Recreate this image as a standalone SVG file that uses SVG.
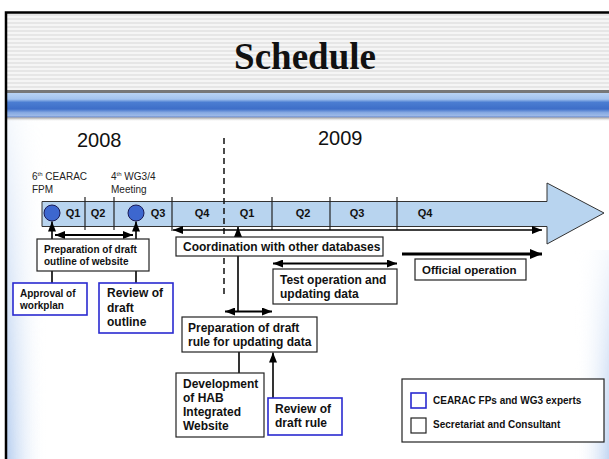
<svg xmlns="http://www.w3.org/2000/svg" width="609" height="459" viewBox="0 0 609 459">
  <style>
    .lbl { font-family: "Liberation Sans", Arial, sans-serif; font-weight: bold; fill: #111; }
    .yr { font-family: "Liberation Sans", Arial, sans-serif; font-size: 20px; fill: #111; }
    .ev { font-family: "Liberation Sans", Arial, sans-serif; font-size: 10px; fill: #222; }
    .q { font-family: "Liberation Sans", Arial, sans-serif; font-weight: bold; font-size: 11px; fill: #111; text-anchor: middle; }
    .box { fill: #fff; stroke: #222; stroke-width: 1.2; }
    .bbox { fill: #fff; stroke: #2a2ad0; stroke-width: 1.6; }
    .tick { stroke: #222; stroke-width: 1.2; }
    .ln { fill: none; stroke: #000; stroke-width: 1.6; }
    .ln2 { fill: none; stroke: #000; stroke-width: 2; }
  </style>
  <defs>
    <pattern id="stripes" width="8" height="4" patternUnits="userSpaceOnUse">
      <rect width="8" height="4" fill="#e6e6e6"/>
      <rect y="0" width="8" height="2" fill="#f5f5f5"/>
    </pattern>
    <linearGradient id="band" x1="0" y1="0" x2="0" y2="1">
      <stop offset="0" stop-color="#b9d3f4"/>
      <stop offset="0.25" stop-color="#a3c3ee"/>
      <stop offset="0.38" stop-color="#4b7dd2"/>
      <stop offset="0.65" stop-color="#3e6ec8"/>
      <stop offset="0.8" stop-color="#86a9e2"/>
      <stop offset="0.94" stop-color="#9fbbe8"/>
      <stop offset="1" stop-color="#3f64b8"/>
    </linearGradient>
    <linearGradient id="shadow" x1="0" y1="0" x2="0" y2="1">
      <stop offset="0" stop-color="#999"/>
      <stop offset="1" stop-color="#fff" stop-opacity="0"/>
    </linearGradient>
    <linearGradient id="hazeL" x1="0" y1="0" x2="1" y2="0">
      <stop offset="0" stop-color="#b9d0f0"/>
      <stop offset="1" stop-color="#ffffff" stop-opacity="0"/>
    </linearGradient>
    <linearGradient id="hazeR" x1="1" y1="0" x2="0" y2="0">
      <stop offset="0" stop-color="#c2d6f2"/>
      <stop offset="1" stop-color="#ffffff" stop-opacity="0"/>
    </linearGradient>
    <linearGradient id="fadeDown" x1="0" y1="0" x2="0" y2="1">
      <stop offset="0" stop-color="#fff" stop-opacity="0.15"/>
      <stop offset="1" stop-color="#fff" stop-opacity="1"/>
    </linearGradient>
    <mask id="mL"><rect x="0" y="118" width="60" height="341" fill="url(#fadeDown)"/></mask>
    <mask id="mR"><rect x="560" y="250" width="49" height="209" fill="url(#fadeDown)"/></mask>
    <marker id="ah" viewBox="0 0 10 8" refX="10" refY="4" markerWidth="10" markerHeight="8" markerUnits="userSpaceOnUse" orient="auto-start-reverse">
      <path d="M0,0 L10,4 L0,8 z" fill="#000"/>
    </marker>
    <marker id="ahL" viewBox="0 0 12 10" refX="12" refY="5" markerWidth="12" markerHeight="10" markerUnits="userSpaceOnUse" orient="auto-start-reverse">
      <path d="M0,0 L12,5 L0,10 z" fill="#000"/>
    </marker>
  </defs>

  <!-- slide background and frame -->
  <rect width="609" height="459" fill="#fff"/>
  <rect x="7" y="118" width="40" height="341" fill="url(#hazeL)" mask="url(#mL)"/>
  <rect x="575" y="250" width="34" height="209" fill="url(#hazeR)" mask="url(#mR)"/>
  <rect x="7" y="13" width="602" height="77" fill="url(#stripes)"/>
  <rect x="7" y="90" width="602" height="3" fill="#777"/>
  <rect x="7" y="93" width="602" height="24.5" fill="url(#band)"/>
  <rect x="7" y="117.5" width="602" height="4" fill="url(#shadow)"/>
  <path d="M6,459 V12.5 H609" fill="none" stroke="#000" stroke-width="2.5"/>

  <text x="305" y="69" text-anchor="middle" font-family="'Liberation Serif', 'Times New Roman', serif" font-weight="bold" font-size="37" fill="#111">Schedule</text>

  <!-- years and events -->
  <text class="yr" x="77" y="147">2008</text>
  <text class="yr" x="318" y="145">2009</text>
  <text class="ev" x="32" y="180">6<tspan font-size="6" dy="-4">th</tspan><tspan dy="4"> CEARAC</tspan></text>
  <text class="ev" x="32" y="193">FPM</text>
  <text class="ev" x="111" y="180">4<tspan font-size="6" dy="-4">th</tspan><tspan dy="4"> WG3/4</tspan></text>
  <text class="ev" x="111" y="193">Meeting</text>

  <!-- timeline arrow -->
  <g id="timeline">
    <path d="M42,201.5 H547 V183 L604,213 L547,244 V226.5 H42 Z" fill="#b8d4ef" stroke="#333" stroke-width="1"/>
    <line class="tick" x1="85" y1="197" x2="85" y2="230"/>
    <line class="tick" x1="114" y1="197" x2="114" y2="230"/>
    <line class="tick" x1="172" y1="197" x2="172" y2="231"/>
    <line class="tick" x1="272" y1="197" x2="272" y2="230"/>
    <line class="tick" x1="330" y1="197" x2="330" y2="230"/>
    <line class="tick" x1="397" y1="197" x2="397" y2="230"/>
    <text class="q" x="73" y="217">Q1</text>
    <text class="q" x="98" y="217">Q2</text>
    <text class="q" x="158" y="217">Q3</text>
    <text class="q" x="202" y="217">Q4</text>
    <text class="q" x="247" y="217">Q1</text>
    <text class="q" x="303" y="217">Q2</text>
    <text class="q" x="357" y="217">Q3</text>
    <text class="q" x="425" y="217">Q4</text>
    <circle cx="52" cy="213" r="8" fill="#3d67cf" stroke="#1a1a55" stroke-width="1"/>
    <circle cx="136" cy="213" r="8" fill="#3d67cf" stroke="#1a1a55" stroke-width="1"/>
  </g>

  <!-- year boundary -->
  <line x1="224" y1="138" x2="224" y2="298" stroke="#111" stroke-width="1.5" stroke-dasharray="6 4"/>

  <!-- connectors -->
  <g id="connectors">
    <path class="ln" d="M52,283 V221.5" marker-end="url(#ah)"/>
    <path class="ln" d="M136,283 V221.5" marker-end="url(#ah)"/>
    <path class="ln2" d="M55,235 H133" marker-start="url(#ah)" marker-end="url(#ah)"/>
    <path class="ln" d="M173,230 H542" marker-start="url(#ah)" marker-end="url(#ah)"/>
    <path class="ln" d="M238,311 V227" marker-end="url(#ah)"/>
    <path class="ln2" d="M273,263.5 H397" marker-start="url(#ah)" marker-end="url(#ah)"/>
    <path fill="none" stroke="#000" stroke-width="3" d="M402,254 H542" marker-end="url(#ahL)"/>
    <path class="ln2" d="M225,311.5 H272" marker-start="url(#ah)" marker-end="url(#ah)"/>
    <path class="ln" d="M239,352 V373"/>
    <path class="ln" d="M273,398 V352.5" marker-end="url(#ah)"/>
  </g>

  <g id="prep-outline">
    <rect class="box" x="37" y="239" width="112" height="32"/>
    <text class="lbl" font-size="10" x="44" y="253">Preparation of draft</text>
    <text class="lbl" font-size="10" x="44" y="265">outline of website</text>
  </g>
  <g id="approval">
    <rect class="bbox" x="13" y="283" width="74" height="32"/>
    <text class="lbl" font-size="10" x="20" y="297">Approval of</text>
    <text class="lbl" font-size="10" x="20" y="309">workplan</text>
  </g>
  <g id="review-outline">
    <rect class="bbox" x="99" y="283" width="74" height="50"/>
    <text class="lbl" font-size="12" x="107" y="297">Review of</text>
    <text class="lbl" font-size="12" x="107" y="311.5">draft</text>
    <text class="lbl" font-size="12" x="107" y="326">outline</text>
  </g>
  <g id="coordination">
    <rect class="box" x="176" y="237" width="207" height="19"/>
    <text class="lbl" font-size="12" x="183" y="251">Coordination with other databases</text>
  </g>
  <g id="test-operation">
    <rect class="box" x="273" y="269" width="124" height="35"/>
    <text class="lbl" font-size="12" x="280" y="284">Test operation and</text>
    <text class="lbl" font-size="12" x="280" y="298">updating data</text>
  </g>
  <g id="official-operation">
    <rect class="box" x="415" y="259" width="111" height="21"/>
    <text class="lbl" font-size="11.5" x="422" y="274">Official operation</text>
  </g>
  <g id="prep-rule">
    <rect class="box" x="182" y="317" width="135" height="35"/>
    <text class="lbl" font-size="12" x="188" y="332">Preparation of draft</text>
    <text class="lbl" font-size="12" x="188" y="346">rule for updating data</text>
  </g>
  <g id="development">
    <rect class="box" x="176" y="373" width="88" height="64"/>
    <text class="lbl" font-size="12" x="183" y="388">Development</text>
    <text class="lbl" font-size="12" x="183" y="402">of HAB</text>
    <text class="lbl" font-size="12" x="183" y="416">Integrated</text>
    <text class="lbl" font-size="12" x="183" y="430">Website</text>
  </g>
  <g id="review-rule">
    <rect class="bbox" x="268" y="398" width="74" height="37"/>
    <text class="lbl" font-size="12" x="275" y="413">Review of</text>
    <text class="lbl" font-size="12" x="275" y="427">draft rule</text>
  </g>
  <g id="legend">
    <rect class="box" x="402" y="379" width="202" height="63"/>
    <rect class="bbox" x="411" y="393" width="15" height="15" stroke-width="1.2"/>
    <rect class="box" x="411" y="418" width="15" height="15"/>
    <text class="lbl" font-size="10" x="433" y="404">CEARAC FPs and WG3 experts</text>
    <text class="lbl" font-size="10" x="433" y="428">Secretariat and Consultant</text>
  </g>
</svg>
